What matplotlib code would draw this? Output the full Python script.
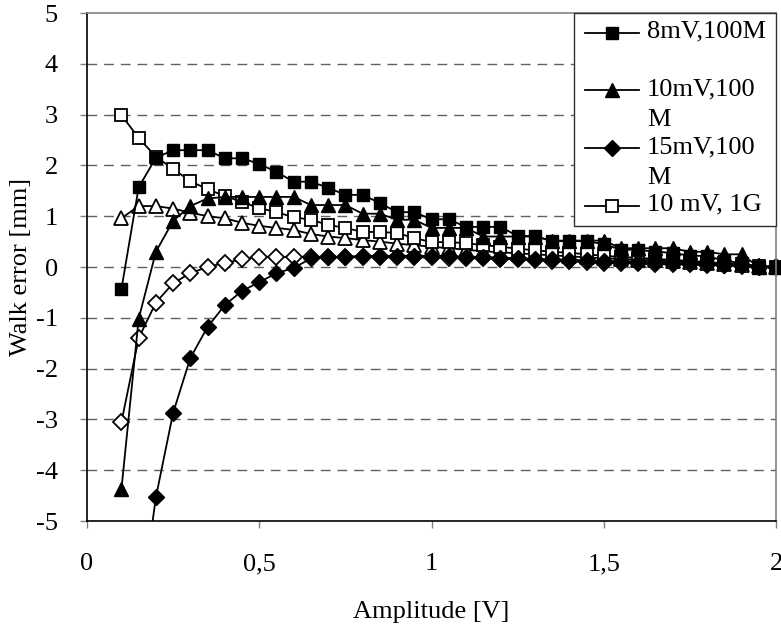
import matplotlib
matplotlib.use("Agg")
import matplotlib.pyplot as plt
from matplotlib.patches import Rectangle
from matplotlib.lines import Line2D

plt.rcParams['font.family'] = ['Liberation Serif', 'DejaVu Serif']
plt.rcParams['axes.unicode_minus'] = False

# Amplitude [V]
amplitude = [0.10, 0.15, 0.20, 0.25, 0.30, 0.35, 0.40, 0.45, 0.50,
             0.55, 0.60, 0.65, 0.70, 0.75, 0.80, 0.85, 0.90, 0.95, 1.00,
             1.05, 1.10, 1.15, 1.20, 1.25, 1.30, 1.35, 1.40, 1.45, 1.50,
             1.55, 1.60, 1.65, 1.70, 1.75, 1.80, 1.85, 1.90, 1.95, 2.00]

# Walk error [mm]
walk_8mV_100M = [-0.43, 1.57, 2.15, 2.30, 2.30, 2.30, 2.14, 2.14, 2.03,
                 1.87, 1.68, 1.68, 1.56, 1.42, 1.42, 1.26, 1.08, 1.08, 0.94,
                 0.94, 0.79, 0.79, 0.79, 0.61, 0.61, 0.51, 0.51, 0.51, 0.45,
                 0.34, 0.34, 0.30, 0.28, 0.22, 0.22, 0.12, 0.08, 0.00, 0.00]
walk_10mV_100M = [-4.37, -1.02, 0.30, 0.91, 1.20, 1.35, 1.38, 1.38, 1.38,
                  1.38, 1.38, 1.22, 1.22, 1.22, 1.05, 1.05, 0.93, 0.93, 0.77,
                  0.77, 0.77, 0.60, 0.60, 0.60, 0.60, 0.52, 0.52, 0.52, 0.52,
                  0.37, 0.37, 0.37, 0.37, 0.30, 0.30, 0.25, 0.25, 0.00, 0.00]
walk_15mV_100M = [-12.0, -7.0, -4.53, -2.87, -1.79, -1.18, -0.75, -0.47, -0.30,
                  -0.12, -0.02, 0.17, 0.20, 0.20, 0.22, 0.22, 0.22, 0.22, 0.22,
                  0.22, 0.20, 0.20, 0.18, 0.18, 0.16, 0.15, 0.14, 0.13, 0.12,
                  0.11, 0.10, 0.09, 0.08, 0.07, 0.06, 0.04, 0.03, 0.01, 0.00]
walk_10mV_1G = [2.99, 2.54, 2.17, 1.93, 1.69, 1.53, 1.40, 1.28, 1.16,
                1.08, 0.98, 0.93, 0.83, 0.77, 0.69, 0.69, 0.67, 0.57, 0.49,
                0.49, 0.47, 0.43, 0.40, 0.36, 0.33, 0.30, 0.28, 0.25, 0.22,
                0.20, 0.18, 0.16, 0.14, 0.12, 0.10, 0.07, 0.05, 0.02, 0.00]
walk_open_tri = [0.96, 1.20, 1.20, 1.15, 1.07, 1.00, 0.96, 0.87, 0.81,
                 0.77, 0.73, 0.65, 0.60, 0.57, 0.53, 0.50, 0.46, 0.43, 0.40,
                 0.37, 0.34, 0.31, 0.29, 0.27, 0.25, 0.23, 0.21, 0.19, 0.17,
                 0.16, 0.14, 0.13, 0.11, 0.10, 0.08, 0.06, 0.04, 0.02, 0.00]
walk_open_dia = [-3.05, -1.40, -0.70, -0.32, -0.12, 0.00, 0.08, 0.15, 0.20,
                 0.20, 0.20, 0.20, 0.20, 0.20, 0.20, 0.19, 0.19, 0.19, 0.19,
                 0.18, 0.18, 0.17, 0.16, 0.15, 0.14, 0.12, 0.11, 0.10, 0.08,
                 0.08, 0.07, 0.06, 0.05, 0.05, 0.04, 0.03, 0.02, 0.01, 0.00]

labels = ["8mV,100M", "10mV,100\nM", "15mV,100\nM", "10 mV, 1G"]
x_ticks = [0, 0.5, 1, 1.5, 2]
x_ticklabels = ["0", "0,5", "1", "1,5", "2"]
y_ticks = [-5, -4, -3, -2, -1, 0, 1, 2, 3, 4, 5]

fig = plt.figure(figsize=(7.81, 6.26), dpi=100)
ax = fig.add_axes([0.1114, 0.1677, 0.8822, 0.8115])

lw = 1.3
styles = [
    dict(marker='s', ms=9, mfc='black', mec='black'),
    dict(marker='^', ms=10, mfc='black', mec='black'),
    dict(marker='D', ms=8, mfc='black', mec='black'),
    dict(marker='s', ms=9, mfc='white', mec='black', mew=1.3),
    dict(marker='^', ms=10, mfc='white', mec='black', mew=1.3),
    dict(marker='D', ms=8, mfc='white', mec='black', mew=1.3),
]
series = [walk_8mV_100M, walk_10mV_100M, walk_15mV_100M,
          walk_10mV_1G, walk_open_tri, walk_open_dia]

# open ones first so filled markers sit on top like in the original
for i in [5, 4, 3, 2, 1, 0]:
    # only the 15mV curve runs off the bottom and needs clipping
    ax.plot(amplitude, series[i], color='black', lw=lw,
            clip_on=(i == 2), **styles[i])

ax.set_xlim(0, 2)
ax.set_ylim(-5, 5)
ax.set_xticks(x_ticks)
ax.set_xticklabels(x_ticklabels)
ax.set_yticks(y_ticks)

for y in range(-4, 5):
    ax.axhline(y, color='#606060', lw=1.0, ls=(0, (7, 5)), zorder=0)

ax.spines['left'].set_color('black')
ax.spines['bottom'].set_color('black')
ax.spines['top'].set_color('#808080')
ax.spines['right'].set_color('#808080')
for s in ax.spines.values():
    s.set_linewidth(1.2)

ax.tick_params(axis='both', direction='out', length=5, width=1.0,
               color='#808080', labelsize=19)
ax.tick_params(axis='x', pad=18)
ax.tick_params(axis='y', pad=16)

ax.set_xlabel("Amplitude [V]", fontsize=19, labelpad=19)
ax.set_ylabel("Walk error [mm]", fontsize=19, labelpad=3)

# legend box (entries laid out like the Excel original)
ax.add_patch(Rectangle((0.707, 0.581), 0.293, 0.419, transform=ax.transAxes,
                       facecolor='white', edgecolor='#303030', lw=1.0,
                       zorder=5, clip_on=False))
entry_y = [0.961, 0.848, 0.734, 0.620]
for i in range(4):
    yy = entry_y[i]
    ax.add_line(Line2D([0.723, 0.801], [yy, yy], transform=ax.transAxes,
                       color='black', lw=lw, zorder=6, clip_on=False))
    ax.add_line(Line2D([0.762], [yy], transform=ax.transAxes, color='black',
                       lw=0, zorder=7, clip_on=False, **styles[i]))
    # top aligned, nudged so the first line sits level with the handle
    ax.text(0.813, yy + 0.024, labels[i], transform=ax.transAxes,
            fontsize=19, va='top', ha='left', zorder=8, linespacing=1.55)

fig.savefig("out.png", dpi=100)
